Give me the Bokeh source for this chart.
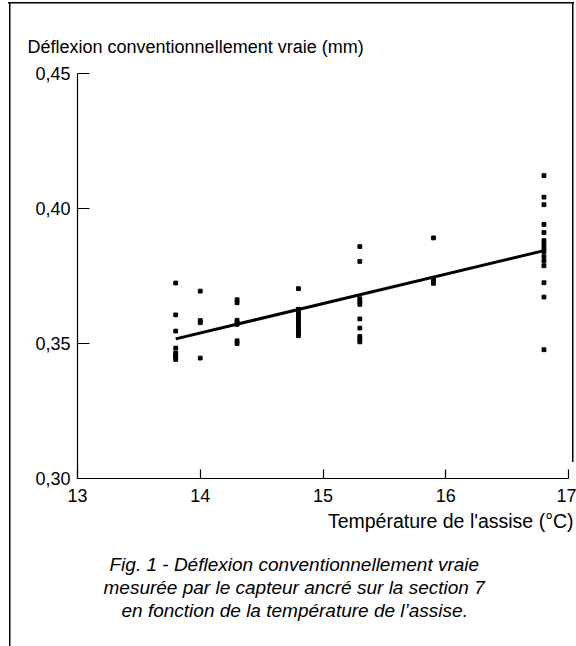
from bokeh.plotting import figure
from bokeh.models import Range1d, FixedTicker, Title
from bokeh.embed import file_html
from bokeh.resources import INLINE

# ---- data ----
temp_groups = [13.8, 14.0, 14.3, 14.8, 15.3, 15.9, 16.8]
defl_138 = [0.3724, 0.3606, 0.3546, 0.3483, 0.3465, 0.3457, 0.3449, 0.3441]
defl_140 = [0.3694, 0.3585, 0.3577, 0.3446]
defl_143 = [0.3662, 0.3651, 0.3586, 0.3578, 0.3571, 0.3510, 0.3500]
defl_148 = [0.3703, 0.3627, 0.3617, 0.3607, 0.3597, 0.3587, 0.3577, 0.3567,
            0.3557, 0.3547, 0.3537, 0.3529]
defl_153 = [0.3859, 0.3804, 0.3666, 0.3655, 0.3645, 0.3591, 0.3557, 0.3526,
            0.3516, 0.3506]
defl_159 = [0.3891, 0.3741, 0.3732, 0.3723]
defl_168 = [0.4122, 0.4042, 0.4014, 0.3941, 0.3911, 0.3881, 0.3866, 0.3853,
            0.3840, 0.3822, 0.3806, 0.3788, 0.3725, 0.3672, 0.3477]
fit_temp = [13.8, 16.8]
fit_defl = [0.3517, 0.3844]

x_ticks = [13, 14, 15, 16, 17]
x_tick_labels = ["13", "14", "15", "16", "17"]
y_ticks = [0.30, 0.35, 0.40, 0.45]
y_tick_labels = ["0,30", "0,35", "0,40", "0,45"]

y_title = "Déflexion conventionnellement vraie (mm)"
x_title = "Température de l'assise (°C)"
caption = ["Fig. 1 - Déflexion conventionnellement vraie",
           "mesurée par le capteur ancré sur la section 7",
           "en fonction de la température de l\u2019assise."]

groups = [defl_138, defl_140, defl_143, defl_148, defl_153, defl_159, defl_168]
xs, ys = [], []
for t, vals in zip(temp_groups, groups):
    xs += [t] * len(vals)
    ys += vals

FONT = "Liberation Sans"

p = figure(width=576, height=646, output_backend="svg", toolbar_location=None,
           x_range=Range1d(13, 17), y_range=Range1d(0.30, 0.45),
           min_border_left=77, min_border_right=8, min_border_top=73,
           min_border_bottom=168)
p.outline_line_color = None
p.grid.visible = False
p.background_fill_color = None
p.border_fill_color = None
# thin frame lines of the printed figure panel (top, left, right)
p.styles = {"background":
            "linear-gradient(#000,#000) 9px 2px / 1.5px 644px no-repeat, "
            "linear-gradient(#000,#000) 8px 2px / 566px 1.5px no-repeat, "
            "linear-gradient(#000,#000) 572px 2px / 1.5px 460px no-repeat, "
            "#fff"}

for ax in (p.xaxis[0], p.yaxis[0]):
    ax.axis_line_color = "black"
    ax.axis_line_width = 1.2
    ax.major_tick_line_color = "black"
    ax.major_tick_line_width = 1.2
    ax.minor_tick_line_color = None
    ax.major_tick_out = 0
    ax.major_label_text_font = FONT
    ax.major_label_text_font_size = "18px"
    ax.major_label_text_color = "black"

p.xaxis[0].ticker = FixedTicker(ticks=x_ticks)
p.xaxis[0].major_label_overrides = dict(zip(x_ticks, x_tick_labels))
p.xaxis[0].major_tick_in = 9
p.xaxis[0].major_label_standoff = 10

p.yaxis[0].ticker = FixedTicker(ticks=y_ticks)
p.yaxis[0].major_label_overrides = dict(zip(y_ticks, y_tick_labels))
p.yaxis[0].major_tick_in = 12
p.yaxis[0].major_label_standoff = 7

p.line(fit_temp, fit_defl, line_color="black", line_width=3)
p.scatter(xs, ys, marker="square", size=3.8, fill_color="black",
          line_color="black")

p.add_layout(Title(text=y_title, align="left", offset=-50, standoff=34,
                   text_font=FONT, text_font_size="18px",
                   text_font_style="normal", text_color="black"), "above")
p.add_layout(Title(text=x_title, align="right", offset=-5, standoff=7,
                   text_font=FONT, text_font_size="19.5px",
                   text_font_style="normal", text_color="black"), "below")
p.add_layout(Title(text="\u00a0", align="left", standoff=5,
                   text_font=FONT, text_font_size="8px"), "below")
caption_offsets = [32, 26, 44]
for line, off in zip(caption, caption_offsets):
    p.add_layout(Title(text=line, align="left", offset=off, standoff=0,
                       text_font=FONT, text_font_size="19px",
                       text_font_style="italic", text_color="black"), "below")

open("out.html", "w").write(file_html(p, INLINE))
